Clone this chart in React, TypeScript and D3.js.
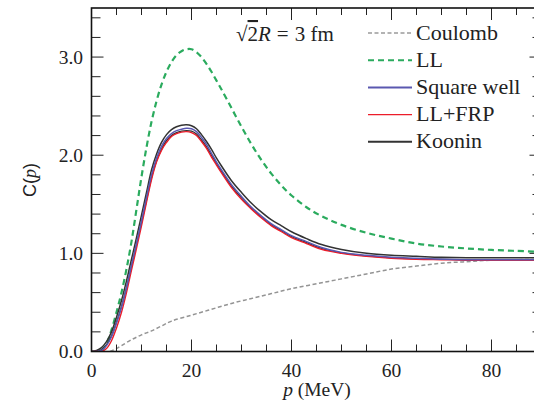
import React from "react";
import * as d3 from "d3";

// momentum grid (MeV)
const pGrid = [0, 1, 2, 3, 4, 5, 6, 7, 8, 9, 10, 11, 12, 13, 14, 15, 16, 17, 18, 19, 20, 21, 22, 23, 24, 25, 26, 28, 30, 32, 34, 36, 38, 40, 43, 46, 50, 55, 60, 65, 70, 75, 80, 85, 90];

const coulombP = [3.7, 5, 6, 8, 10, 12, 14, 16, 20, 24, 28, 32, 36, 40, 45, 50, 55, 60, 65, 70, 75, 80, 85, 90];
const coulomb = [0, 0.03, 0.06, 0.12, 0.17, 0.21, 0.26, 0.31, 0.37, 0.43, 0.49, 0.54, 0.59, 0.64, 0.69, 0.74, 0.79, 0.84, 0.87, 0.9, 0.915, 0.93, 0.935, 0.94];

const ll = [0, 0, 0.01, 0.08, 0.22, 0.4, 0.6, 0.84, 1.12, 1.45, 1.78, 2.08, 2.34, 2.55, 2.72, 2.85, 2.95, 3.02, 3.06, 3.08, 3.08, 3.05, 3.0, 2.93, 2.85, 2.76, 2.67, 2.48, 2.29, 2.11, 1.95, 1.81, 1.69, 1.59, 1.47, 1.38, 1.29, 1.21, 1.15, 1.1, 1.07, 1.05, 1.035, 1.025, 1.015];

const squareWell = [0, 0, 0.01, 0.06, 0.15, 0.29, 0.45, 0.65, 0.88, 1.1, 1.33, 1.57, 1.8, 1.97, 2.09, 2.17, 2.22, 2.25, 2.265, 2.275, 2.27, 2.24, 2.18, 2.11, 2.02, 1.93, 1.85, 1.7, 1.58, 1.47, 1.38, 1.3, 1.24, 1.18, 1.12, 1.06, 1.01, 0.98, 0.96, 0.95, 0.94, 0.935, 0.935, 0.935, 0.935];

const llFrp = [0, 0, 0, 0.03, 0.11, 0.24, 0.4, 0.6, 0.83, 1.05, 1.28, 1.52, 1.75, 1.93, 2.05, 2.13, 2.19, 2.22, 2.235, 2.24, 2.23, 2.2, 2.14, 2.07, 1.98, 1.9, 1.82, 1.67, 1.55, 1.45, 1.36, 1.28, 1.22, 1.16, 1.1, 1.04, 1.0, 0.97, 0.95, 0.94, 0.935, 0.93, 0.93, 0.93, 0.93];

const kooninUpper = [0, 0.01, 0.04, 0.1, 0.2, 0.35, 0.52, 0.72, 0.94, 1.16, 1.39, 1.62, 1.85, 2.01, 2.13, 2.21, 2.26, 2.29, 2.305, 2.31, 2.3, 2.27, 2.21, 2.14, 2.06, 1.97, 1.89, 1.74, 1.62, 1.51, 1.42, 1.34, 1.28, 1.22, 1.15, 1.09, 1.04, 1.0, 0.98, 0.97, 0.96, 0.955, 0.955, 0.955, 0.955];

const kooninLower = [0, 0, 0.02, 0.07, 0.16, 0.3, 0.46, 0.65, 0.87, 1.09, 1.31, 1.54, 1.77, 1.94, 2.06, 2.15, 2.2, 2.23, 2.245, 2.25, 2.245, 2.215, 2.155, 2.085, 2.0, 1.915, 1.835, 1.685, 1.565, 1.46, 1.37, 1.29, 1.23, 1.17, 1.11, 1.05, 1.005, 0.975, 0.955, 0.945, 0.94, 0.935, 0.935, 0.935, 0.935];

const xTicks = [0, 20, 40, 60, 80];
const yTicks = [0, 1, 2, 3];

const W = 534;
const H = 403;
const left = 91.5;
const right = 541.5;
const top = 8;
const bottom = 351.5;

const legendItems = [
  { label: "Coulomb", color: "#9a9a9a", dash: "4,2.5", width: 1.4 },
  { label: "LL", color: "#2bab5e", dash: "6,4", width: 2 },
  { label: "Square well", color: "#5a58b0", dash: "", width: 2 },
  { label: "LL+FRP", color: "#ec1c2a", dash: "", width: 1.4 },
  { label: "Koonin", color: "#333333", dash: "", width: 2 },
];

export default function App() {
  const x = d3.scaleLinear().domain([0, 90]).range([left, right]);
  const y = d3.scaleLinear().domain([0, 3.5]).range([bottom, top]);
  const line = d3
    .line<[number, number]>()
    .x((d) => x(d[0]))
    .y((d) => y(d[1]))
    .curve(d3.curveCatmullRom.alpha(0.5));
  const path = (ps: number[], vs: number[]) =>
    line(ps.map((p, i) => [p, vs[i]] as [number, number])) || "";

  const xMinor = d3.range(0, 91, 5);
  const yMinor = d3.range(0, 3.51, 0.2).map((v) => +v.toFixed(1));
  const serif = "Liberation Serif, Times New Roman, serif";

  return (
    <svg
      width={W}
      height={H}
      style={{ position: "absolute", left: 0, top: 0, background: "#fff" }}
    >
      <defs>
        <clipPath id="plot">
          <rect x={left} y={top} width={right - left} height={bottom - top} />
        </clipPath>
      </defs>
      <rect width={W} height={H} fill="#fff" />

      {/* curves */}
      <g clipPath="url(#plot)" fill="none">
        <path d={path(coulombP, coulomb)} stroke="#949494" strokeWidth={1.5} strokeDasharray="4,2.5" />
        <path d={path(pGrid, ll)} stroke="#2bab5e" strokeWidth={2.2} strokeDasharray="6,4" />
        <path d={path(pGrid, kooninLower)} stroke="#333" strokeWidth={1.3} />
        <path d={path(pGrid, kooninUpper)} stroke="#333" strokeWidth={1.5} />
        <path d={path(pGrid, llFrp)} stroke="#ec1c2a" strokeWidth={1.4} />
        <path d={path(pGrid, squareWell)} stroke="#5a58b0" strokeWidth={1.5} />
      </g>

      {/* ticks */}
      <g stroke="#222" strokeWidth={1}>
        {xMinor.map((t) => {
          const len = t % 20 === 0 ? 12 : 7;
          return (
            <g key={"xt" + t}>
              <line x1={x(t)} x2={x(t)} y1={bottom} y2={bottom - len} />
              <line x1={x(t)} x2={x(t)} y1={top} y2={top + len} />
            </g>
          );
        })}
        {yMinor.map((t) => {
          const len = Math.abs(t - Math.round(t)) < 1e-6 ? 12 : 9;
          return (
            <g key={"yt" + t}>
              <line x1={left} x2={left + len} y1={y(t)} y2={y(t)} />
              <line x1={right} x2={right - len} y1={y(t)} y2={y(t)} />
            </g>
          );
        })}
      </g>

      {/* frame */}
      <rect
        x={left}
        y={top}
        width={right - left}
        height={bottom - top}
        fill="none"
        stroke="#111"
        strokeWidth={1.6}
      />

      {/* tick labels */}
      <g fontFamily={serif} fontSize={19.5} fill="#222">
        {yTicks.map((t) => (
          <text key={"yl" + t} x={83} y={y(t) + 6.5} textAnchor="end">
            {t.toFixed(1)}
          </text>
        ))}
        {xTicks.map((t) => (
          <text key={"xl" + t} x={x(t)} y={377} textAnchor="middle">
            {t}
          </text>
        ))}
      </g>

      {/* axis titles */}
      <text x={317} y={396} textAnchor="middle" fontFamily={serif} fontSize={19.5} fill="#222">
        <tspan fontStyle="italic">p</tspan> (MeV)
      </text>
      <text
        transform="translate(36,180) rotate(-90)"
        textAnchor="middle"
        fontFamily="Liberation Sans, Arial, sans-serif"
        fontSize={18}
        fill="#222"
      >
        C(<tspan fontFamily={serif} fontStyle="italic">p</tspan>)
      </text>

      {/* annotation */}
      <text x={236} y={41} fontFamily={serif} fontSize={21} fill="#222">
        √<tspan style={{ textDecoration: "overline" }}>2</tspan>
        <tspan fontStyle="italic">R</tspan>
        <tspan dx={6}>=</tspan>
        <tspan dx={6}>3 fm</tspan>
      </text>

      {/* legend */}
      <g>
        {legendItems.map((it, i) => {
          const cy = 33 + i * 27.2;
          return (
            <g key={it.label}>
              <line
                x1={368}
                x2={412}
                y1={cy}
                y2={cy}
                stroke={it.color}
                strokeWidth={it.width}
                strokeDasharray={it.dash}
              />
              <text x={416} y={cy + 6.5} fontFamily={serif} fontSize={22} fill="#222">
                {it.label}
              </text>
            </g>
          );
        })}
      </g>
    </svg>
  );
}
